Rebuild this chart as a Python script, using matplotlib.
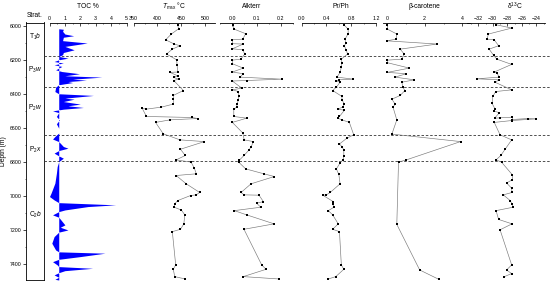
import matplotlib
matplotlib.use('Agg')
import matplotlib.pyplot as plt
from matplotlib.ticker import MultipleLocator, FormatStrFormatter

plt.rcParams['font.family'] = ['Liberation Sans', 'DejaVu Sans']
plt.rcParams['mathtext.fontset'] = 'custom'
plt.rcParams['mathtext.rm'] = 'Liberation Sans'
plt.rcParams['mathtext.it'] = 'Liberation Sans:italic'

# depth limits and formation boundaries (m)
depth_top, depth_bot = 5978, 7496
boundaries = [6178, 6360, 6640, 6795]
units = [r'$\mathrm{T_1}\mathit{b}$', r'$\mathrm{P_3}\mathit{w}$', r'$\mathrm{P_2}\mathit{w}$',
         r'$\mathrm{P_2}\mathit{x}$', r'$\mathrm{C_2}\mathit{b}$']
unit_depth = [6065, 6260, 6480, 6730, 7110]

# TOC (%) profile, plotted against a 0.6 % baseline
toc_base = 0.6
toc_depth = [5995, 6015, 6018, 6030, 6046, 6056, 6065, 6085, 6099, 6119, 6139, 6155, 6168,
             6178, 6188, 6198, 6208, 6217, 6227, 6237, 6257, 6267, 6280, 6292, 6300, 6312,
             6318, 6326, 6332, 6345, 6359, 6385, 6398, 6408, 6424, 6430, 6444, 6459, 6469,
             6479, 6489, 6499, 6509, 6532, 6552, 6575, 6601, 6630, 6650, 6665, 6680, 6709,
             6719, 6733, 6748, 6764, 6778, 6798, 6827, 6866, 6925, 6984, 7004, 7024, 7040,
             7053, 7063, 7083, 7093, 7112, 7126, 7171, 7185, 7201, 7214, 7240, 7279, 7319,
             7330, 7338, 7358, 7374, 7388, 7407, 7417, 7427, 7441, 7453, 7466, 7480, 7492, 7496]
toc_value = [0.6, 0.6, 0.9, 0.85, 1.0, 1.57, 0.9, 0.85, 2.45, 1.0, 1.6, 0.9, 0.85,
             0.6, 1.2, 0.6, 0.3, 0.9, 0.3, 0.8, 0.4, 0.8, 1.95, 1.0, 3.4, 1.5,
             2.4, 1.2, 1.5, 0.6, 0.4, 0.35, 0.6, 2.85, 1.0, 1.6, 0.9, 2.0, 1.2,
             2.2, 0.9, 0.2, 0.6, 0.45, 0.65, 0.45, 0.6, 0.6, 0.35, 0.2, 0.6, 0.9,
             1.2, 0.6, 0.3, 0.6, 0.9, 0.6, 0.5, 0.45, 0.35, 0.1, 0.0, 0.3, 0.6,
             4.3, 2.5, 1.0, 0.6, 0.2, 0.6, 1.0, 0.7, 1.2, 0.6, 0.3, 0.15, 0.4,
             0.6, 3.6, 2.0, 0.6, 0.2, 0.5, 0.6, 2.8, 1.0, 0.6, 0.3, 0.6, 0.35, 0.6]

tmax_depth = [5991, 6015, 6046, 6080, 6105, 6115, 6135, 6164, 6198, 6231, 6270, 6272, 6292,
              6302, 6312, 6320, 6379, 6408, 6430, 6459, 6477, 6489, 6483, 6532, 6538, 6544,
              6552, 6567, 6634, 6670, 6680, 6725, 6762, 6788, 6801, 6837, 6870, 6880, 6929,
              6980, 6994, 6998, 7028, 7047, 7067, 7084, 7112, 7165, 7197, 7211, 7407, 7433,
              7476, 7490]
tmax_value = [442, 444, 429, 417, 435, 447, 431, 419, 440, 441, 442, 426, 442,
              434, 444, 434, 454, 433, 433, 433, 408, 376, 368, 377, 472, 484,
              426, 396, 412, 447, 498, 448, 458, 439, 470, 477, 481, 439, 460,
              488, 481, 469, 442, 436, 435, 450, 457, 455, 448, 431, 438, 433,
              436, 458]

alk_depth = [5991, 6017, 6044, 6076, 6080, 6103, 6105, 6133, 6139, 6164, 6194, 6200, 6221,
             6247, 6270, 6280, 6300, 6312, 6320, 6323, 6365, 6375, 6385, 6410, 6434, 6457,
             6477, 6489, 6532, 6542, 6567, 6629, 6670, 6680, 6709, 6729, 6762, 6791, 6801,
             6841, 6870, 6886, 6929, 6980, 6994, 6996, 7034, 7043, 7067, 7087, 7112, 7165,
             7197, 7407, 7433, 7476, 7490]
alk_value = [0.004, 0.007, 0.055, 0.043, 0.0, 0.0, 0.045, 0.0, 0.043, 0.051, 0.035, 0.0, 0.0,
             0.045, 0.0, 0.045, 0.032, 0.203, 0.059, 0.0, 0.039, 0.0, 0.025, 0.027, 0.025, 0.02,
             0.018, 0.006, 0.006, 0.059, 0.0, 0.043, 0.049, 0.087, 0.078, 0.069, 0.048, 0.028, 0.026,
             0.055, 0.13, 0.173, 0.077, 0.036, 0.048, 0.11, 0.128, 0.1, 0.117, 0.008, 0.059, 0.172,
             0.048, 0.121, 0.139, 0.045, 0.193]

prph_depth = [5991, 6017, 6044, 6076, 6099, 6118, 6139, 6164, 6194, 6215, 6241, 6272, 6300,
              6312, 6316, 6322, 6330, 6359, 6379, 6414, 6434, 6459, 6477, 6489, 6495, 6532,
              6542, 6552, 6567, 6640, 6660, 6694, 6710, 6729, 6764, 6786, 6806, 6841, 6874,
              6929, 6980, 6994, 6996, 7034, 7047, 7067, 7087, 7112, 7165, 7197, 7211, 7407,
              7433, 7476, 7490]
prph_value = [0.68, 0.75, 0.75, 0.70, 0.71, 0.69, 0.72, 0.74, 0.64, 0.65, 0.64, 0.62, 0.57,
              0.83, 0.60, 0.56, 0.62, 0.56, 0.50, 0.65, 0.65, 0.69, 0.66, 0.58, 0.69, 0.61,
              0.58, 0.65, 0.77, 0.84, 0.73, 0.61, 0.65, 0.68, 0.68, 0.67, 0.62, 0.56, 0.60,
              0.62, 0.46, 0.40, 0.34, 0.51, 0.50, 0.52, 0.43, 0.50, 0.59, 0.50, 0.61, 0.64,
              0.68, 0.55, 0.43]

bcar_depth = [5991, 6017, 6046, 6076, 6086, 6105, 6135, 6164, 6194, 6200, 6215, 6247, 6272,
              6280, 6300, 6316, 6330, 6359, 6379, 6408, 6430, 6459, 6477, 6552, 6636, 6680,
              6788, 6801, 7168, 7437, 7492]
bcar_value = [0.03, 0.03, 0.53, 0.5, 0.0, 2.66, 0.71, 0.92, 0.8, 0.03, 0.03, 1.2, 0.03,
              1.03, 0.44, 1.45, 0.8, 0.84, 0.96, 0.71, 0.27, 0.44, 0.33, 0.53, 0.27, 3.9,
              1.03, 0.62, 0.53, 1.74, 2.75]

d13c_depth = [5991, 6011, 6046, 6076, 6080, 6115, 6135, 6171, 6194, 6225, 6272, 6275, 6300,
              6310, 6316, 6330, 6375, 6385, 6414, 6455, 6487, 6500, 6510, 6542, 6540, 6536,
              6550, 6544, 6546, 6556, 6567, 6640, 6670, 6725, 6762, 6788, 6801, 6876, 6905,
              6924, 6955, 6980, 6994, 7028, 7047, 7067, 7087, 7139, 7165, 7200, 7407, 7437,
              7458, 7476]
d13c_value = [-29.55, -27.4, -30.6, -30.8, -29.8, -29.2, -30.5, -29.9, -29.45, -27.4, -29.9, -29.45, -29.1,
              -32.2, -29.1, -29.7, -27.4, -29.6, -30.0, -30.1, -29.7, -29.8, -29.1, -29.75, -29.0, -27.3,
              -27.3, -25.2, -24.0, -27.4, -29.8, -29.0, -27.4, -28.3, -28.9, -29.55, -28.8, -27.3, -27.3,
              -28.1, -27.4, -27.35, -28.55, -27.6, -27.35, -27.2, -29.55, -29.2, -27.35, -29.0, -27.4, -28.1,
              -27.4, -28.4]

W, H = 550, 286
fig = plt.figure(figsize=(W / 100, H / 100), dpi=100)


def px_axes(x0, x1, y0=22.5, y1=280):
    return fig.add_axes([x0 / W, 1 - y1 / H, (x1 - x0) / W, (y1 - y0) / H])


def ftext(x, y, s, **kw):
    fig.text(x / W, 1 - y / H, s, ha='center', va='center', **kw)


# strat column with depth axis
sax = px_axes(26, 44.3)
sax.set_ylim(depth_bot, depth_top)
sax.set_xlim(0, 1)
sax.set_xticks([])
sax.yaxis.set_major_locator(MultipleLocator(200))
sax.yaxis.set_minor_locator(MultipleLocator(100))
sax.tick_params(axis='y', which='major', labelsize=3.8, length=2, width=0.5, pad=1)
sax.tick_params(axis='y', which='minor', length=1, width=0.4)
for sp in sax.spines.values():
    sp.set_linewidth(0.6)
sax.set_ylabel('Depth (m)', fontsize=4.8, labelpad=2)
for lab, d in zip(units, unit_depth):
    sax.text(0.5, d, lab, ha='center', va='center', fontsize=4.8)
ftext(35, 15.5, 'Strat.', fontsize=4.8)

# dashed formation boundaries across all panels
bax = px_axes(44.3, 550)
bax.set_ylim(depth_bot, depth_top)
bax.set_xlim(0, 1)
bax.axis('off')
for b in boundaries:
    bax.axhline(b, color='#333333', lw=0.6, ls=(0, (3, 2.2)))


def panel(x0, x1, xlim, major, minor, fmt, title, title_x):
    ax = px_axes(x0, x1)
    ax.patch.set_alpha(0)
    ax.set_ylim(depth_bot, depth_top)
    ax.set_xlim(*xlim)
    for side in ['left', 'right', 'bottom']:
        ax.spines[side].set_visible(False)
    ax.spines['top'].set_linewidth(0.6)
    ax.set_yticks([])
    ax.xaxis.tick_top()
    ax.xaxis.set_major_locator(MultipleLocator(major))
    ax.xaxis.set_minor_locator(MultipleLocator(minor))
    ax.xaxis.set_major_formatter(FormatStrFormatter(fmt))
    ax.tick_params(axis='x', which='major', direction='in', length=2, width=0.5,
                   labelsize=3.8, pad=1.2)
    ax.tick_params(axis='x', which='minor', direction='in', length=1, width=0.4)
    ftext(title_x, 6, title, fontsize=4.8)
    return ax


def points(ax, v, d):
    ax.plot(v, d, color='#777777', lw=0.45, marker='s', ms=2.0, mfc='black', mec='black',
            mew=0)


ax = panel(49.5, 126.5, (0, 5), 1, 0.5, '%d', 'TOC %', 88)
ax.fill_betweenx(toc_depth, toc_base, toc_value, color='#0000ff', lw=0)

ax = panel(133.5, 215, (350, 520), 50, 25, '%d', r'$\mathit{T}_{\mathrm{max}}$ °C', 174)
points(ax, tmax_value, tmax_depth)

ax = panel(220.2, 293, (-0.05, 0.25), 0.1, 0.05, '%.1f', 'Alkterr', 252)
ax.set_xticks([0, 0.1, 0.2])
points(ax, alk_value, alk_depth)

ax = panel(301.7, 376, (0, 1.2), 0.4, 0.2, '%.1f', 'Pr/Ph', 341)
points(ax, prph_value, prph_depth)

ax = panel(383, 470, (-0.2, 4.4), 2, 1, '%d', 'β-carotene', 424)
ax.set_xticks([0, 2, 4])
points(ax, bcar_value, bcar_depth)

ax = panel(466.7, 545, (-33.6, -22.8), 2, 1, '%d', r'δ$^{13}$C', 515)
ax.set_xticks([-32, -30, -28, -26, -24])
ax.set_xticklabels(['\u221232', '\u221230', '\u221228', '\u221226', '\u221224'])
points(ax, d13c_value, d13c_depth)

fig.savefig('out.png', dpi=100)
